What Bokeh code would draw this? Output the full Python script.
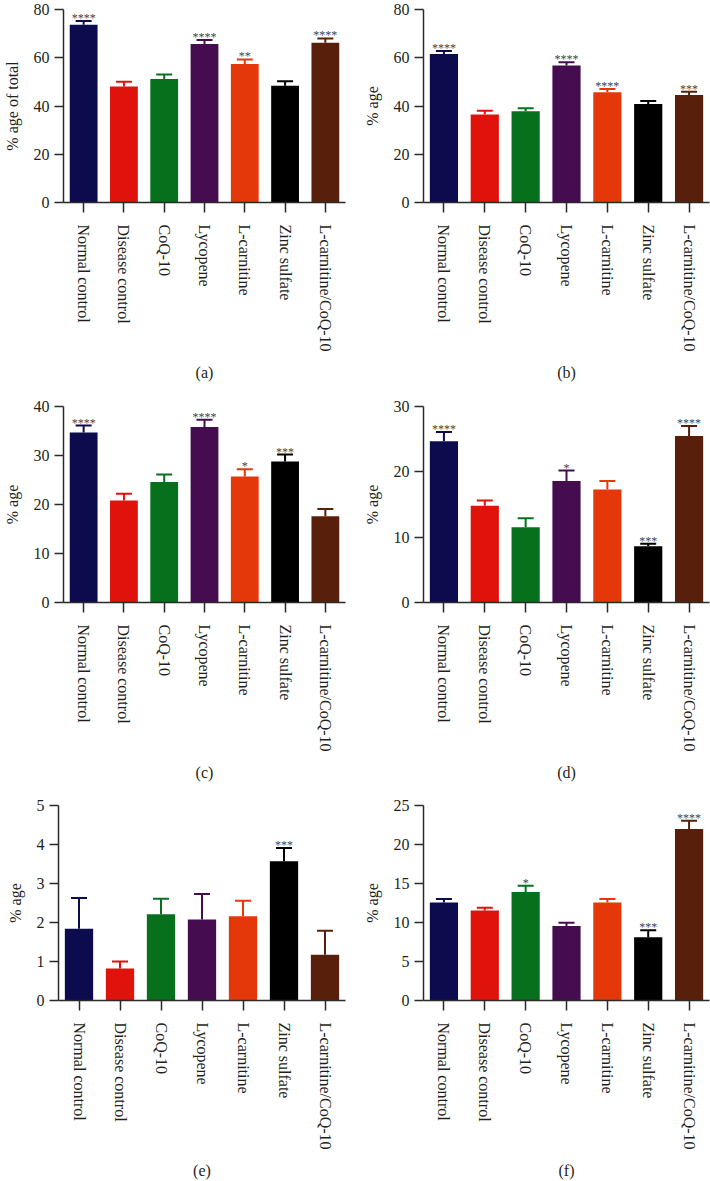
from bokeh.plotting import figure
from bokeh.layouts import column, row
from bokeh.models import Range1d, FixedTicker, ColumnDataSource
from bokeh.core.properties import value
from bokeh.embed import file_html
from bokeh.resources import INLINE

groups = ["Normal control", "Disease control", "CoQ-10", "Lycopene",
          "L-carnitine", "Zinc sulfate", "L-carnitine/CoQ-10"]
colors = ["#0c0b4d", "#e0120c", "#07701c", "#450d4f", "#e5380a", "#000000", "#58200a"]

a_mean = [73.7, 48.1, 51.2, 65.7, 57.4, 48.4, 66.2]
a_sem = [1.5, 2.0, 1.9, 1.7, 1.9, 1.9, 1.8]
a_sig = ["****", "", "", "****", "**", "", "****"]

b_mean = [61.6, 36.5, 37.8, 56.8, 45.7, 40.8, 44.6]
b_sem = [1.2, 1.5, 1.3, 1.3, 1.3, 1.3, 1.3]
b_sig = ["****", "", "", "****", "****", "", "***"]

c_mean = [34.7, 20.8, 24.6, 35.8, 25.7, 28.8, 17.6]
c_sem = [1.4, 1.4, 1.5, 1.5, 1.5, 1.4, 1.5]
c_sig = ["****", "", "", "****", "*", "***", ""]

d_mean = [24.7, 14.8, 11.5, 18.6, 17.3, 8.6, 25.5]
d_sem = [1.4, 0.8, 1.4, 1.6, 1.3, 0.4, 1.5]
d_sig = ["****", "", "", "*", "", "***", "****"]

e_mean = [1.84, 0.82, 2.21, 2.08, 2.16, 3.57, 1.17]
e_sem = [0.79, 0.18, 0.40, 0.65, 0.40, 0.34, 0.62]
e_sig = ["", "", "", "", "", "***", ""]

f_mean = [12.57, 11.55, 13.9, 9.55, 12.57, 8.1, 22.0]
f_sem = [0.43, 0.35, 0.8, 0.43, 0.43, 0.9, 1.06]
f_sig = ["", "", "*", "", "", "***", "****"]

captions = ["(a)", "(b)", "(c)", "(d)", "(e)", "(f)"]
ylabels = ["% age of total", "% age", "% age", "% age", "% age", "% age"]
ymaxes = [80, 80, 40, 30, 5, 25]
yticks = [[0, 20, 40, 60, 80], [0, 20, 40, 60, 80], [0, 10, 20, 30, 40],
          [0, 10, 20, 30], [0, 1, 2, 3, 4, 5], [0, 5, 10, 15, 20, 25]]
means = [a_mean, b_mean, c_mean, d_mean, e_mean, f_mean]
sems = [a_sem, b_sem, c_sem, d_sem, e_sem, f_sem]
sigs = [a_sig, b_sig, c_sig, d_sig, e_sig, f_sig]

FONT = "Liberation Serif"
TXT = "#231f20"
AX = "#2a2a2a"

# (height, border_top, border_bottom) per row
row_dims = [(398, 9, 196), (399, 8, 195), (384, 8, 181)]


def make(i, left_col, dims):
    height, bt, bb = dims
    if left_col:
        w, bl, br = 355, 58, 10
    else:
        w, bl, br = 355, 68, 1
    p = figure(x_range=groups, y_range=Range1d(0, ymaxes[i]), width=w, height=height,
               output_backend="svg", toolbar_location=None,
               min_border_left=bl, min_border_right=br, min_border_top=bt,
               min_border_bottom=bb)
    tops = [m + s for m, s in zip(means[i], sems[i])]
    src = ColumnDataSource(dict(x=groups, m=means[i], top=tops, c=colors, sig=sigs[i]))
    p.vbar(x="x", top="m", width=0.69, fill_color="c", line_color=None, source=src)
    p.segment(x0="x", y0="m", x1="x", y1="top", line_color="c", line_width=2, source=src)
    p.scatter(x="x", y="top", marker="dash", size=16, line_color="c", line_width=2, source=src)
    p.text(x="x", y="top", text="sig", text_font=value(FONT), text_font_size="12px",
           text_color="#444444", text_align="center", text_baseline="alphabetic",
           y_offset=-3, source=src)

    p.xgrid.visible = False
    p.ygrid.visible = False
    p.outline_line_color = None
    p.background_fill_color = "white"
    p.border_fill_color = "white"

    for ax in (p.xaxis[0], p.yaxis[0]):
        ax.axis_line_color = AX
        ax.axis_line_width = 1.5
        ax.major_tick_line_color = AX
        ax.major_tick_line_width = 1.5
        ax.major_tick_in = 0
        ax.minor_tick_line_color = None
        ax.major_label_text_font = FONT
        ax.major_label_text_font_size = "16px"
        ax.major_label_text_color = TXT
        ax.axis_label_text_font = FONT
        ax.axis_label_text_font_size = "16px"
        ax.axis_label_text_font_style = "normal"
        ax.axis_label_text_color = TXT

    xa = p.xaxis[0]
    xa.major_tick_out = 10
    xa.major_label_orientation = "vertical"
    xa.major_label_standoff = 12
    xa.axis_label = captions[i]
    xa.axis_label_standoff = 9

    ya = p.yaxis[0]
    ya.ticker = FixedTicker(ticks=yticks[i])
    ya.major_tick_out = 9
    ya.major_label_standoff = 5
    ya.axis_label = ylabels[i]
    ya.axis_label_standoff = 10
    return p


rows = []
for r in range(3):
    rows.append(row(make(2 * r, True, row_dims[r]), make(2 * r + 1, False, row_dims[r])))
layout = column(*rows)

open("out.html", "w").write(file_html(layout, INLINE))
